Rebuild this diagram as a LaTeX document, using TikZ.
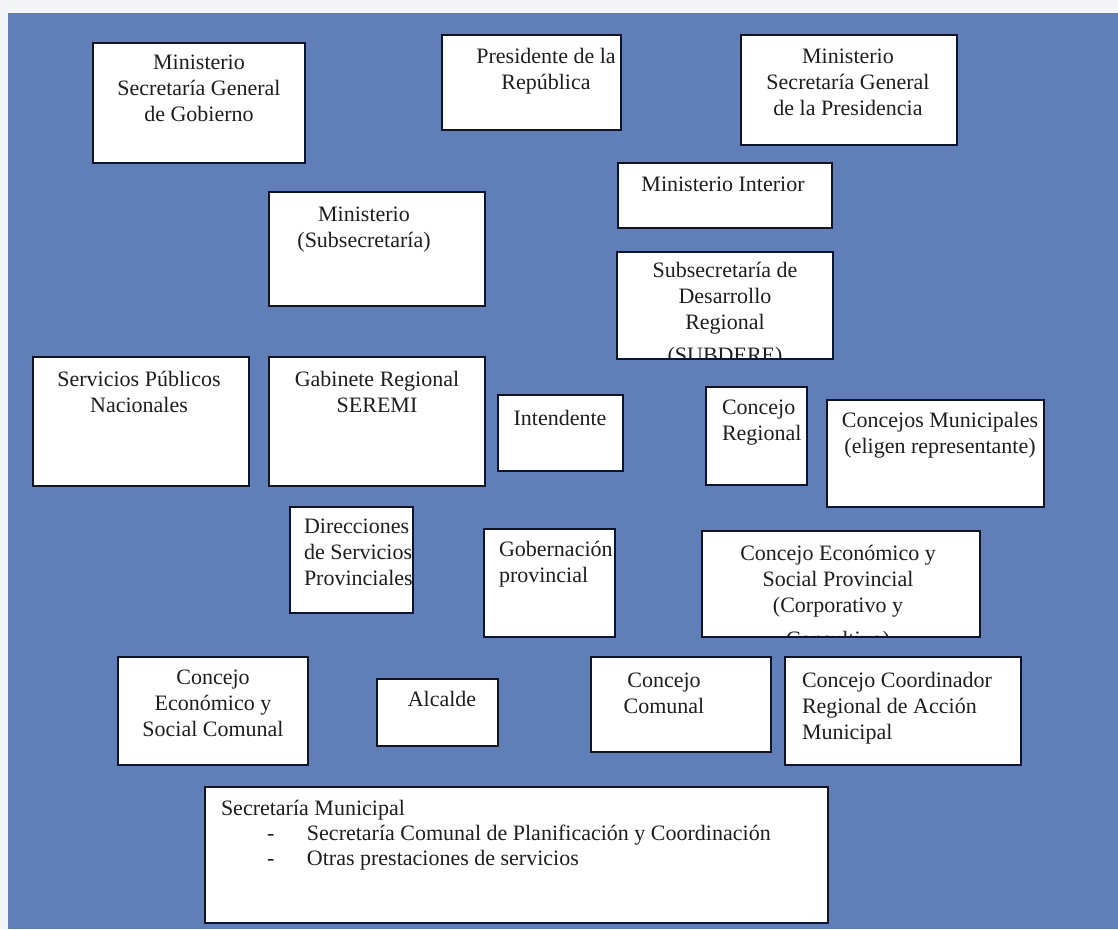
\documentclass[tikz,border=0pt]{standalone}
\usepackage{fontspec}
\setmainfont{Liberation Serif}
\usetikzlibrary{fit}
\definecolor{bggray}{RGB}{243,244,245}
\definecolor{bgblue}{RGB}{96,127,184}
\definecolor{boxline}{RGB}{15,20,40}
\definecolor{textcol}{RGB}{30,30,30}
\newcommand{\mycbox}[2]{\parbox[t]{#1pt}{\centering #2}}
\newcommand{\mylbox}[2]{\parbox[t]{#1pt}{\raggedright #2}}
\begin{document}
\begin{tikzpicture}[x=1pt,y=-1pt,
  box/.style={draw=boxline, fill=white, line width=2pt, inner sep=0pt, outer sep=0pt},
  txt/.style={inner sep=0pt, outer sep=0pt, text=textcol, font=\fontsize{22}{26}\selectfont, anchor=base},
  txtl/.style={txt, anchor=base west}]
\useasboundingbox (0,0) rectangle (1118,929);
\fill[bggray] (0,0) rectangle (1118,929);
\fill[bgblue] (8,13) rectangle (1118,929);

% row 1
\node[box, fit={(93,43)(305,163)}] (gob) {};
\node[txt] (gobT) at (199,69) {\mycbox{210}{Ministerio\\Secretaría General\\de Gobierno}};
\node[box, fit={(442,35)(621,130)}] (pres) {};
\node[txt] (presT) at (546,63) {\mycbox{178}{Presidente de la\\República}};
\node[box, fit={(741,35)(957,145)}] (segpres) {};
\node[txt] (segpresT) at (848,63) {\mycbox{214}{Ministerio\\Secretaría General\\de la Presidencia}};

% row 2
\node[box, fit={(618,163)(832,228)}] (interior) {};
\node[txt] (interiorT) at (723,191) {\mycbox{212}{Ministerio Interior}};
\node[box, fit={(269,192)(485,306)}] (subsec) {};
\node[txt] (subsecT) at (364,221) {\mycbox{214}{Ministerio\\(Subsecretaría)}};
\node[box, fit={(617,252)(833,359)}] (subdere) {};
\begin{scope}
  \clip (618,253) rectangle (832,357);
  \node[txt] (subdereT) at (725,277) {\mycbox{214}{Subsecretaría de\\Desarrollo\\Regional\\[7pt](SUBDERE)}};
\end{scope}

% row 3
\node[box, fit={(33,357)(249,486)}] (servpub) {};
\node[txt] (servpubT) at (139,386) {\mycbox{214}{Servicios Públicos\\Nacionales}};
\node[box, fit={(269,357)(485,486)}] (gabinete) {};
\node[txt] (gabineteT) at (377,386) {\mycbox{214}{Gabinete Regional\\SEREMI}};
\node[box, fit={(498,395)(623,471)}] (intendente) {};
\node[txt] (intendenteT) at (560,425) {\mycbox{123}{Intendente}};
\node[box, fit={(706,387)(807,485)}] (concreg) {};
\node[txtl] (concregT) at (722,414) {\mylbox{84}{Concejo\\Regional}};
\node[box, fit={(827,400)(1044,507)}] (concmun) {};
\node[txt] (concmunT) at (940,427) {\mycbox{215}{Concejos Municipales\\(eligen representante)}};

% row 4
\node[box, fit={(290,507)(413,613)}] (direcc) {};
\node[txtl] (direccT) at (304,533) {\mylbox{110}{Direcciones\\de Servicios\\Provinciales}};
\node[box, fit={(484,529)(615,637)}] (gobernacion) {};
\node[txtl] (gobernacionT) at (499,556) {\mylbox{114}{Gobernación\\provincial}};
\node[box, fit={(702,531)(980,637)}] (cesp) {};
\begin{scope}
  \clip (703,532) rectangle (979,635);
  \node[txt] (cespT) at (838,560) {\mycbox{276}{Concejo Económico y\\Social Provincial\\(Corporativo y\\[8pt]Consultivo)}};
\end{scope}

% row 5
\node[box, fit={(118,657)(308,765)}] (cesc) {};
\node[txt] (cescT) at (213,684) {\mycbox{188}{Concejo\\Económico y\\Social Comunal}};
\node[box, fit={(377,679)(498,746)}] (alcalde) {};
\node[txt] (alcaldeT) at (442,706) {\mycbox{119}{Alcalde}};
\node[box, fit={(591,657)(771,752)}] (conccom) {};
\node[txt] (conccomT) at (664,687) {\mycbox{150}{Concejo\\Comunal}};
\node[box, fit={(785,657)(1021,765)}] (ccram) {};
\node[txtl] (ccramT) at (802,687) {\mylbox{216}{Concejo Coordinador\\Regional de Acción\\Municipal}};

% row 6
\node[box, fit={(205,787)(828,923)}] (secmun) {};
\node[txtl, font=\fontsize{22}{25}\selectfont] (secmunT) at (221,815) {\mylbox{600}{Secretaría Municipal\\
\hspace*{46pt}\makebox[40pt][l]{-}Secretaría Comunal de Planificación y Coordinación\\
\hspace*{46pt}\makebox[40pt][l]{-}Otras prestaciones de servicios}};
\end{tikzpicture}
\end{document}
